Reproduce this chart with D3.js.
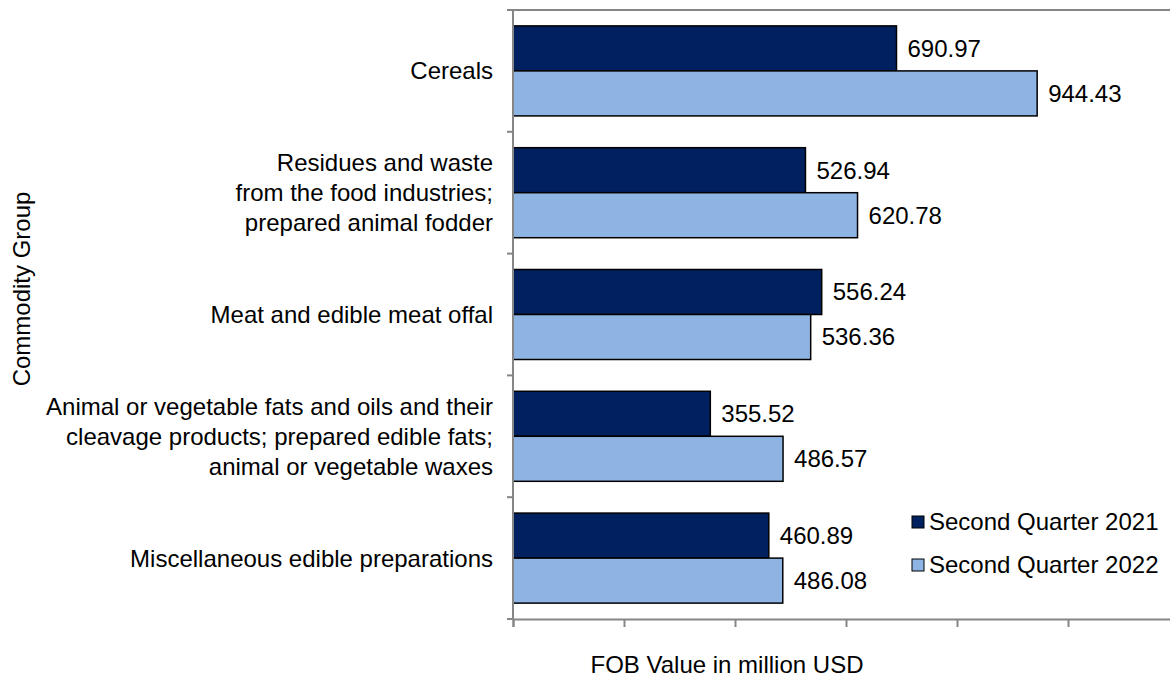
<!DOCTYPE html>
<html>
<head>
<meta charset="utf-8">
<script src="https://cdn.jsdelivr.net/npm/d3@7"></script>
<style>
    body { margin: 0; background: #fff; }
    svg { display: block; font-family: "Liberation Sans", Arial, sans-serif; }
</style>
</head>
<body>
<div id="chart"></div>
<script>
// Data
const categories = [
    ["Cereals"],
    ["Residues and waste", "from the food industries;", "prepared animal fodder"],
    ["Meat and edible meat offal"],
    ["Animal or vegetable fats and oils and their", "cleavage products; prepared edible fats;", "animal or vegetable waxes"],
    ["Miscellaneous edible preparations"]
]
const seriesNames = ["Second Quarter 2021", "Second Quarter 2022"]
const q2021 = [690.97, 526.94, 556.24, 355.52, 460.89]
const q2022 = [944.43, 620.78, 536.36, 486.57, 486.08]
const xTicks = [0, 200, 400, 600, 800, 1000, 1200]
const colors = ["#002060", "#8EB4E3"]

const width = 1170, height = 682
const fontSize = 24

const svg = d3.select("#chart").append("svg")
    .attr("width", width)
    .attr("height", height)

const keys = categories.map(d => d.join(" "))
const rows = keys.map((k, i) => ({ key: k, lines: categories[i], values: [q2021[i], q2022[i]] }))

// Scales
const x = d3.scaleLinear().domain([0, 1200]).range([513, 1179])
const y = d3.scaleBand().domain(keys).range([10, 619]).padding(0)
const ySub = d3.scaleBand().domain(seriesNames).range([0, y.bandwidth()])
    .paddingInner(0).paddingOuter(0.353)

const axisColor = "#868686"

// Bars
const groups = svg.append("g")
    .selectAll("g")
    .data(rows)
    .join("g")
    .attr("transform", d => `translate(0,${y(d.key)})`)

groups.selectAll("rect")
    .data(d => d.values.map((v, i) => ({ name: seriesNames[i], value: v, i: i })))
    .join("rect")
    .attr("x", x(0))
    .attr("y", d => ySub(d.name))
    .attr("width", d => x(d.value) - x(0))
    .attr("height", ySub.bandwidth())
    .attr("fill", d => colors[d.i])
    .attr("stroke", "#000")
    .attr("stroke-width", 1.5)

// Value labels
groups.selectAll("text")
    .data(d => d.values.map((v, i) => ({ name: seriesNames[i], value: v })))
    .join("text")
    .attr("x", d => x(d.value) + 11)
    .attr("y", d => ySub(d.name) + ySub.bandwidth() / 2)
    .attr("dy", "0.35em")
    .attr("font-size", fontSize)
    .attr("fill", "#000")
    .text(d => d3.format(".2f")(d.value))

// Y axis (category boundaries as ticks)
const yAxis = svg.append("g")
    .attr("stroke", axisColor)
    .attr("stroke-width", 2)
yAxis.append("line")
    .attr("x1", x(0)).attr("x2", x(0))
    .attr("y1", y.range()[0]).attr("y2", y.range()[1])
yAxis.selectAll("line.tick")
    .data(keys.map(k => y(k)).concat([y.range()[1]]))
    .join("line")
    .attr("class", "tick")
    .attr("x1", x(0) - 6).attr("x2", x(0))
    .attr("y1", d => d).attr("y2", d => d)

// Top border of the plot area
svg.append("line")
    .attr("x1", x(0)).attr("x2", x(1200))
    .attr("y1", y.range()[0]).attr("y2", y.range()[0])
    .attr("stroke", axisColor)
    .attr("stroke-width", 2)

// X axis, ticks only
const xAxis = svg.append("g")
    .attr("transform", `translate(0,${y.range()[1]})`)
    .call(d3.axisBottom(x).tickValues(xTicks).tickSize(8).tickFormat(""))
xAxis.select(".domain").attr("stroke", axisColor).attr("stroke-width", 2)
xAxis.selectAll(".tick line").attr("stroke", axisColor).attr("stroke-width", 2)

// Category labels
svg.append("g")
    .selectAll("text")
    .data(rows)
    .join("text")
    .attr("text-anchor", "end")
    .attr("font-size", fontSize)
    .attr("fill", "#000")
    .attr("transform", d => `translate(493,${y(d.key) + y.bandwidth() / 2})`)
    .each(function (d) {
        const lineHeight = 30
        const start = -(d.lines.length - 1) / 2
        d3.select(this).selectAll("tspan")
            .data(d.lines)
            .join("tspan")
            .attr("x", 0)
            .attr("y", (l, i) => (start + i) * lineHeight)
            .attr("dy", "0.35em")
            .text(l => l)
    })

// Axis titles
svg.append("text")
    .attr("x", 727)
    .attr("y", 665)
    .attr("dy", "0.35em")
    .attr("text-anchor", "middle")
    .attr("font-size", fontSize)
    .text("FOB Value in million USD")

svg.append("text")
    .attr("transform", "translate(22,289) rotate(-90)")
    .attr("dy", "0.35em")
    .attr("text-anchor", "middle")
    .attr("font-size", fontSize)
    .text("Commodity Group")

// Legend
const legend = svg.append("g")
    .selectAll("g")
    .data(seriesNames)
    .join("g")
    .attr("transform", (d, i) => `translate(912,${522 + i * 43})`)
legend.append("rect")
    .attr("x", 0).attr("y", -6)
    .attr("width", 12).attr("height", 12)
    .attr("fill", (d, i) => colors[i])
    .attr("stroke", "#000")
    .attr("stroke-width", 1)
legend.append("text")
    .attr("x", 17)
    .attr("dy", "0.35em")
    .attr("font-size", fontSize)
    .text(d => d)
</script>
</body>
</html>
